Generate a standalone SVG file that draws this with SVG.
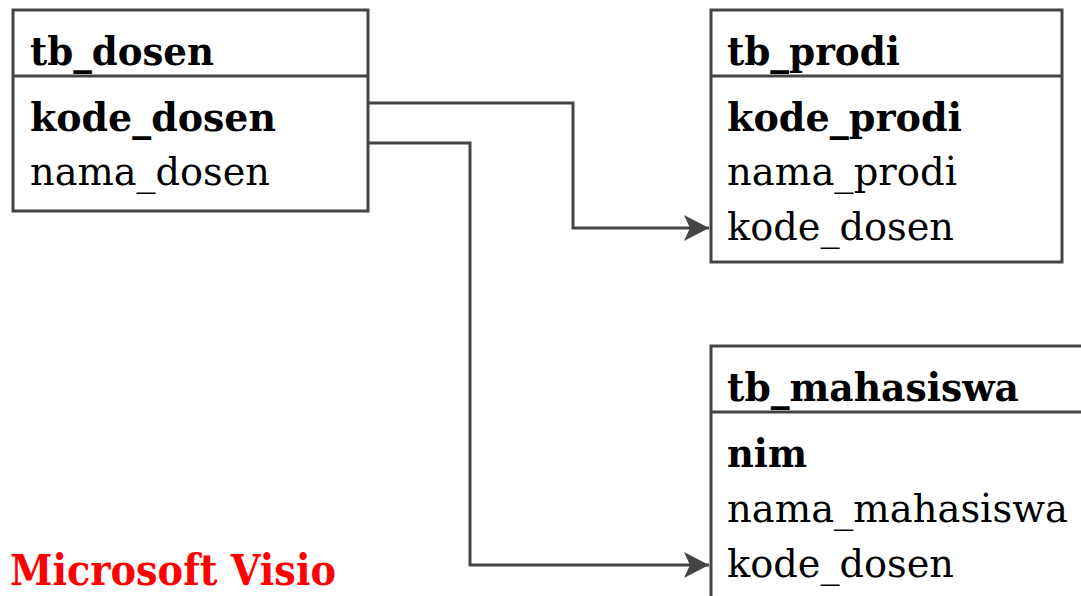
<svg xmlns="http://www.w3.org/2000/svg" width="1081" height="596" viewBox="0 0 1081 596">
<style>
.box{fill:#fff;stroke:#444;stroke-width:3}
.div{stroke:#444;stroke-width:3}
.t{font-family:"DejaVu Serif","Liberation Serif",serif;font-size:40px;fill:#000}
.b{font-weight:bold}
.con{fill:none;stroke:#444;stroke-width:3;stroke-linejoin:miter}
.red{font-family:"DejaVu Serif","Liberation Serif",serif;font-size:42px;font-weight:bold;fill:#ff0000}
</style>
<defs>
<marker id="arr" markerUnits="userSpaceOnUse" markerWidth="26" markerHeight="28" refX="25" refY="14" orient="auto">
<path d="M0,1 L25,14 L0,27 L6,14 Z" fill="#444"/>
</marker>
</defs>
<rect width="1081" height="596" fill="#fff"/>
<g id="connectors">
<path class="con" d="M368,103 H573 V228 H709" marker-end="url(#arr)"/>
<path class="con" d="M368,143 H470 V565 H709" marker-end="url(#arr)"/>
</g>
<g id="tb_dosen">
<rect class="box" x="13" y="10" width="355" height="201"/>
<line class="div" x1="13" y1="76" x2="368" y2="76"/>
<text class="t b" x="30" y="65" textLength="184" lengthAdjust="spacingAndGlyphs">tb_dosen</text>
<text class="t b" x="30" y="131" textLength="246" lengthAdjust="spacingAndGlyphs">kode_dosen</text>
<text class="t" x="30" y="185" textLength="240" lengthAdjust="spacingAndGlyphs">nama_dosen</text>
</g>
<g id="tb_prodi">
<rect class="box" x="711" y="10" width="351" height="252"/>
<line class="div" x1="711" y1="76" x2="1062" y2="76"/>
<text class="t b" x="727" y="65" textLength="173" lengthAdjust="spacingAndGlyphs">tb_prodi</text>
<text class="t b" x="727" y="131" textLength="235" lengthAdjust="spacingAndGlyphs">kode_prodi</text>
<text class="t" x="727" y="185" textLength="230" lengthAdjust="spacingAndGlyphs">nama_prodi</text>
<text class="t" x="727" y="240" textLength="227" lengthAdjust="spacingAndGlyphs">kode_dosen</text>
</g>
<g id="tb_mahasiswa">
<rect class="box" x="711" y="346" width="380" height="270"/>
<line class="div" x1="711" y1="412" x2="1081" y2="412"/>
<text class="t b" x="727" y="401" textLength="292" lengthAdjust="spacingAndGlyphs">tb_mahasiswa</text>
<text class="t b" x="727" y="467" textLength="80" lengthAdjust="spacingAndGlyphs">nim</text>
<text class="t" x="727" y="522" textLength="341" lengthAdjust="spacingAndGlyphs">nama_mahasiswa</text>
<text class="t" x="727" y="577" textLength="227" lengthAdjust="spacingAndGlyphs">kode_dosen</text>
</g>
<text class="red" x="10" y="585" textLength="326" lengthAdjust="spacingAndGlyphs">Microsoft Visio</text>
</svg>
